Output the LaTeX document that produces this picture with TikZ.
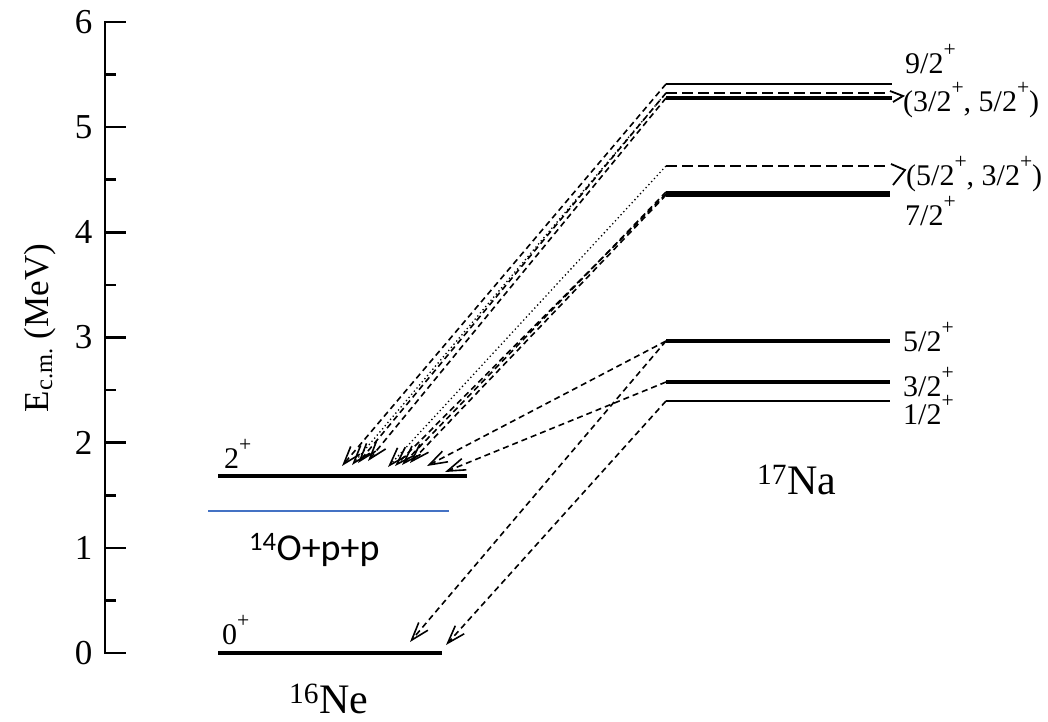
\documentclass[tikz,border=0pt]{standalone}
\usepackage{fontspec}
\setmainfont{Liberation Serif}
\newfontfamily\calib{Carlito}
\usetikzlibrary{arrows.meta}
\newcommand\plussup{\raisebox{0.55em}{\scalebox{0.72}{+}}}
\begin{document}
\begin{tikzpicture}[x=1pt,y=-1pt,
  lev/.style={line width=2.8pt},
  trd/.style={line width=1.6pt,dash pattern=on 6pt off 4pt,-{Straight Barb[length=18pt,width=12pt,line width=1.6pt]}},
  trp/.style={line width=1.3pt,dash pattern=on 1.3pt off 2.8pt,-{Straight Barb[length=18pt,width=12pt,line width=1.6pt]}},
  ticklab/.style={font=\fontsize{35}{40}\selectfont,anchor=east},
  levlab/.style={font=\fontsize{30}{34}\selectfont,anchor=base west,inner sep=0pt},
  nuc/.style={font=\fontsize{42}{46}\selectfont,anchor=base west,inner sep=0pt}]
\useasboundingbox (0,0) rectangle (1048,721);
% axis
\draw[line width=2.6pt] (105,22) -- (105,653);
\foreach \k in {0,...,6}{
  \draw[line width=2.6pt] (104,{653-105.17*\k}) -- (126,{653-105.17*\k});
  \node[ticklab] (t\k) at (96,{653-105.17*\k}) {\k};
}
\foreach \k in {0,...,5}{
  \draw[line width=2.6pt] (104,{653-105.17*(\k+0.5)}) -- (116,{653-105.17*(\k+0.5)});
}
\node[rotate=90,font=\fontsize{35}{40}\selectfont] (ylab) at (40,328) {E\textsubscript{c.m.} (MeV)};
% 16Ne levels
\coordinate (g0L) at (218,653); \coordinate (g0R) at (442,653);
\coordinate (g2L) at (218,476); \coordinate (g2R) at (467,476);
\draw[lev,line width=3.2pt] (g0L) -- (g0R);
\draw[lev,line width=3.2pt] (g2L) -- (g2R);
\coordinate (bL) at (208,511); \coordinate (bR) at (449,511);
\draw[line width=1.6pt,color={rgb,255:red,68;green,114;blue,196}] (bL) -- (bR);
% 17Na levels
\coordinate (a1) at (666,401); \coordinate (a1R) at (890,401);
\coordinate (a3) at (666,382); \coordinate (a3R) at (890,382);
\coordinate (a5) at (666,341); \coordinate (a5R) at (890,341);
\coordinate (a7) at (666,194); \coordinate (a7R) at (890,194);
\coordinate (aD) at (666,166); \coordinate (aDR) at (890,166);
\coordinate (a9) at (666,84);  \coordinate (a9R) at (892,84);
\coordinate (aE) at (666,93);  \coordinate (aER) at (890,93);
\coordinate (aF) at (666,98);  \coordinate (aFR) at (892,98);
\draw[lev] (a1) -- (a1R);
\draw[lev,line width=3.2pt] (a3) -- (a3R);
\draw[lev,line width=3.2pt] (a5) -- (a5R);
\draw[line width=6.5pt] (a7) -- (a7R);
\draw[lev,dash pattern=on 11pt off 5pt] (aD) -- (aDR);
\draw[lev] (a9) -- (a9R);
\draw[lev,dash pattern=on 11pt off 5pt] (aE) -- (aER);
\draw[lev,line width=3.4pt] (aF) -- (aFR);
% label pointers
\coordinate (pD1) at (891,164); \coordinate (pD2) at (905,170); \coordinate (pD3) at (893,185);
\draw[line width=1.8pt] (pD1) -- (pD2) -- (pD3);
\coordinate (pE1) at (890,91); \coordinate (pE2) at (903,96); \coordinate (pE3) at (893,102);
\draw[line width=1.8pt] (pE1) -- (pE2) -- (pE3);
% transitions to 0+
\coordinate (e1) at (410,642); \coordinate (e2) at (446,645);
\draw[trd] (a5) -- (e1);
\draw[trd] (a1) -- (e2);
% transitions to 2+
\coordinate (f1) at (427,466); \coordinate (f2) at (445,472);
\draw[trd] (a5) -- (f1);
\draw[trd] (a3) -- (f2);
\coordinate (h1) at (342,466); \coordinate (h2) at (352,465);
\coordinate (h3) at (358,463); \coordinate (h4) at (368,461);
\draw[trd] (a9) -- (h1);
\draw[trp] (aE) -- (h2);
\draw[trd] (aE) -- (h3);
\draw[trd] (aF) -- (h4);
\coordinate (k1) at (388,467); \coordinate (k2) at (395,466);
\coordinate (k3) at (402,465); \coordinate (k4) at (410,463);
\draw[trp] (aD) -- (k1);
\draw[trd] (a7) -- (k2);
\draw[trd] ([yshift=2pt]a7) -- (k3);
\draw[trd] ([yshift=-1pt]a7) -- (k4);
% level labels
\node[levlab] (l9) at (905,73) {9/2\plussup};
\node[levlab] (lE) at (903,111) {(3/2\plussup, 5/2\plussup)};
\node[levlab] (lD) at (906,185) {(5/2\plussup, 3/2\plussup)};
\node[levlab] (l7) at (905,225) {7/2\plussup};
\node[levlab] (l5) at (903,351) {5/2\plussup};
\node[levlab] (l3) at (903,396) {3/2\plussup};
\node[levlab] (l1) at (903,424) {1/2\plussup};
\node[levlab] (l2p) at (224,468) {2\plussup};
\node[levlab] (l0p) at (222,644) {0\plussup};
\node[nuc] (na) at (757,494) {\textsuperscript{17}Na};
\node[nuc] (ne) at (289,713) {\textsuperscript{16}Ne};
\node[anchor=base west,inner sep=0pt,font=\calib\fontsize{38}{42}\selectfont] (opp) at (249,560) {\textsuperscript{14}O+p+p};
\end{tikzpicture}
\end{document}
